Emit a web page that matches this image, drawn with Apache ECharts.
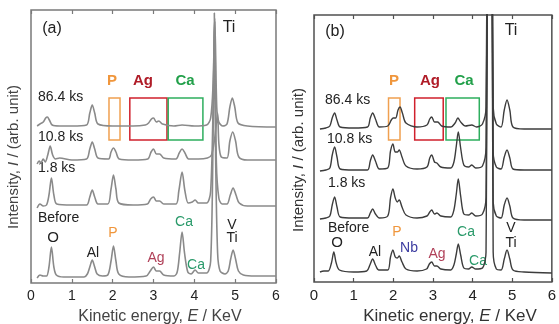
<!DOCTYPE html>
<html>
<head>
<meta charset="utf-8">
<script src="https://cdn.jsdelivr.net/npm/echarts@6/dist/echarts.min.js"></script>
<style>
html, body { margin: 0; padding: 0; background: #fff; }
#main { width: 559px; height: 324px; }
</style>
</head>
<body>
<div id="main"></div>
<script>
// spectra: [kinetic energy (keV), intensity (arb. unit)]
// panel (a)
var aBefore = [[0.15,5],[0.22,8],[0.3,7],[0.38,7],[0.44,16],[0.5,36],[0.56,16],[0.62,8],[0.8,6],[1.0,6],[1.3,6],[1.38,9],[1.44,16],[1.5,23],[1.56,16],[1.62,9],[1.75,7],[1.88,8],[1.96,22],[2.02,37],[2.08,22],[2.15,9],[2.4,6],[2.82,7],[2.92,12],[3.0,16],[3.07,12],[3.15,12],[3.25,8],[3.5,7],[3.58,11],[3.64,30],[3.7,51],[3.76,30],[3.84,11],[3.92,9],[4.02,13],[4.1,10],[4.3,10],[4.4,22],[4.46,150],[4.49,270],[4.52,130],[4.57,30],[4.63,12],[4.75,9],[4.83,12],[4.89,24],[4.95,33],[5.01,24],[5.08,12],[5.2,8],[5.5,7],[6.0,7]];
var a1p8 = [[0.15,75],[0.22,79],[0.3,77],[0.38,78],[0.44,88],[0.5,105],[0.56,88],[0.63,79],[1.0,78],[1.36,78],[1.44,86],[1.5,93],[1.56,86],[1.64,79],[1.88,79],[1.96,94],[2.02,108],[2.08,94],[2.15,80],[2.5,78],[2.85,79],[2.93,84],[3.0,86],[3.07,82],[3.15,82],[3.25,79],[3.55,79],[3.62,92],[3.7,111],[3.77,92],[3.85,80],[3.95,81],[4.02,83],[4.1,80],[4.3,80],[4.4,92],[4.47,200],[4.5,262],[4.54,120],[4.6,85],[4.68,79],[4.8,79],[4.88,88],[4.95,95],[5.02,88],[5.1,80],[5.3,77],[6.0,77]];
var a10p8 = [[0.15,119],[0.2,122],[0.24,120],[0.3,124],[0.35,121],[0.41,128],[0.47,137],[0.53,128],[0.6,124],[0.7,125],[1.0,123],[1.36,124],[1.44,134],[1.5,141],[1.56,134],[1.64,125],[1.9,124],[1.96,131],[2.02,135],[2.08,131],[2.16,124],[2.5,123],[2.86,124],[2.94,131],[3.0,134],[3.07,129],[3.15,129],[3.25,125],[3.55,124],[3.63,130],[3.7,134],[3.77,130],[3.86,124],[4.1,124],[4.32,125],[4.42,128],[4.5,145],[4.54,160],[4.57,170],[4.6,140],[4.66,126],[4.8,125],[4.87,142],[4.94,151],[5.01,142],[5.09,126],[5.3,123],[6.0,123]];
var a86p4 = [[0.15,157],[0.22,159],[0.3,161],[0.36,165],[0.4,166],[0.45,163],[0.52,158],[0.7,157],[1.0,157],[1.36,158],[1.44,170],[1.5,178],[1.56,170],[1.64,159],[2.0,157],[2.5,157],[2.8,158],[2.88,160],[2.95,164],[3.0,165],[3.07,161],[3.13,162],[3.22,159],[3.5,157],[3.7,158],[4.0,157],[4.3,158],[4.4,165],[4.46,200],[4.5,265],[4.55,175],[4.6,161],[4.7,157],[4.8,159],[4.87,176],[4.93,185],[4.99,176],[5.07,160],[5.3,157],[6.0,156]];
// panel (b)
var bBefore = [[0.15,10],[0.25,11],[0.36,11],[0.44,19],[0.5,30],[0.56,19],[0.64,12],[1.0,10],[1.33,11],[1.41,17],[1.48,23],[1.55,17],[1.63,12],[1.86,12],[1.93,25],[1.99,32],[2.05,25],[2.1,24],[2.15,26],[2.22,20],[2.32,13],[2.6,11],[2.84,13],[2.91,18],[2.97,20],[3.04,16],[3.1,16],[3.2,13],[3.45,12],[3.53,17],[3.59,28],[3.64,38],[3.7,27],[3.78,14],[3.9,13],[3.98,15],[4.08,13],[4.25,14],[4.34,30],[4.43,900],[4.52,30],[4.6,13],[4.72,12],[4.8,23],[4.87,32],[4.94,23],[5.02,12],[5.3,10],[6.0,9]];
var b1p8 = [[0.15,63],[0.3,64],[0.4,66],[0.46,77],[0.52,85],[0.58,75],[0.66,65],[1.0,64],[1.35,64],[1.42,69],[1.48,73],[1.55,68],[1.65,64],[1.86,66],[1.93,84],[1.99,93],[2.05,84],[2.1,80],[2.15,82],[2.22,75],[2.32,67],[2.6,64],[2.85,66],[2.92,70],[2.97,72],[3.04,68],[3.1,69],[3.2,66],[3.45,65],[3.53,72],[3.59,88],[3.64,103],[3.7,86],[3.78,68],[3.9,67],[3.98,69],[4.08,66],[4.25,68],[4.34,85],[4.43,900],[4.52,80],[4.6,66],[4.72,64],[4.8,77],[4.87,84],[4.94,76],[5.02,64],[5.3,62],[6.0,62]];
var b10p8 = [[0.15,111],[0.3,112],[0.4,114],[0.46,127],[0.52,135],[0.58,125],[0.66,113],[1.0,112],[1.35,112],[1.42,121],[1.48,127],[1.55,121],[1.65,113],[1.86,114],[1.93,131],[1.99,138],[2.05,130],[2.1,130],[2.15,132],[2.22,125],[2.32,116],[2.6,113],[2.85,115],[2.92,124],[2.97,127],[3.04,120],[3.1,119],[3.2,115],[3.45,114],[3.53,120],[3.59,136],[3.64,150],[3.7,134],[3.78,117],[3.9,115],[3.98,117],[4.08,114],[4.25,116],[4.34,135],[4.43,900],[4.52,130],[4.6,115],[4.72,113],[4.8,125],[4.87,132],[4.94,124],[5.02,113],[5.3,112],[6.0,112]];
var b86p4 = [[0.15,153],[0.3,154],[0.4,156],[0.46,164],[0.52,169],[0.58,162],[0.66,155],[1.0,154],[1.35,155],[1.42,164],[1.48,169],[1.55,163],[1.65,155],[1.86,156],[1.95,162],[2.0,164],[2.06,164],[2.12,172],[2.17,175],[2.23,169],[2.32,159],[2.6,155],[2.85,157],[2.92,163],[2.97,165],[3.04,160],[3.12,160],[3.22,156],[3.45,155],[3.56,159],[3.63,164],[3.7,160],[3.82,156],[3.98,157],[4.1,155],[4.25,158],[4.34,175],[4.43,900],[4.52,175],[4.6,158],[4.72,155],[4.8,172],[4.87,182],[4.94,172],[5.02,155],[5.3,153],[6.0,153]];

// highlighted windows: [name, E from, E to, I low, I high]
var boxesA = [['P',1.91,2.18,143,185],['Ag',2.42,3.33,143,185],['Ca',3.36,4.21,143,185]];
var boxesB = [['P',1.88,2.17,142,184],['Ag',2.54,3.26,142,184],['Ca',3.33,4.17,142,184]];

var FONT = '"Liberation Sans", Arial, sans-serif';
var boxColor = { P: '#f0a050', Ag: '#d0202c', Ca: '#2eae5e' };

function areas(boxes) {
  return boxes.map(function (b) {
    return [{ coord: [b[1], b[3]], itemStyle: { color: 'rgba(0,0,0,0)', borderColor: boxColor[b[0]], borderWidth: 1.5 } },
            { coord: [b[2], b[4]] }];
  });
}

function spec(data, xi, yi, color, width, boxes) {
  var s = {
    type: 'line', xAxisIndex: xi, yAxisIndex: yi, data: data,
    showSymbol: false, smooth: 0.3, silent: true, clip: true,
    lineStyle: { color: color, width: width }
  };
  if (boxes) {
    s.markArea = { silent: true, label: { show: false }, data: areas(boxes) };
  }
  return s;
}

function t(x, y, s, size, color, opts) {
  opts = opts || {};
  return {
    type: 'text', x: x, y: y, silent: true, rotation: opts.rot || 0,
    style: {
      text: s, fill: color, fontFamily: FONT, fontSize: size,
      fontWeight: opts.bold ? 'bold' : 'normal',
      align: opts.align || 'center', verticalAlign: 'middle',
      rich: opts.rich
    }
  };
}

function xAxes(gi, col, fs) {
  var base = { gridIndex: gi, type: 'value', min: 0, max: 6, interval: 1,
    axisLine: { show: false }, splitLine: { show: false },
    axisTick: { inside: true, length: 4, lineStyle: { color: col, width: 1.2 } } };
  return [
    Object.assign({}, base, { position: 'bottom',
      axisLabel: { color: '#222', fontSize: fs, fontFamily: FONT, margin: 6 } }),
    Object.assign({}, base, { position: 'top', axisLabel: { show: false } })
  ];
}

function yAxis(gi, max) {
  return { gridIndex: gi, type: 'value', min: 0, max: max,
    axisLine: { show: false }, axisTick: { show: false },
    axisLabel: { show: false }, splitLine: { show: false } };
}

var grayA = '#8a8a8a', grayB = '#3c3c3c';
function italic(fs) { return { i: { fontStyle: 'italic', fontFamily: FONT, fontSize: fs } }; }

var chart = echarts.init(document.getElementById('main'));
chart.setOption({
  animation: false,
  grid: [
    { left: 31, top: 10, width: 245, height: 273, show: true, borderColor: '#7a7a7a', borderWidth: 1.5 },
    { left: 314, top: 15, width: 243, height: 267, show: true, borderColor: '#505050', borderWidth: 1.5 }
  ],
  xAxis: xAxes(0, '#7a7a7a', 14).concat(xAxes(1, '#505050', 15)),
  yAxis: [yAxis(0, 273), yAxis(1, 267)],
  series: [
    spec(aBefore, 0, 0, grayA, 1.6, boxesA),
    spec(a1p8, 0, 0, grayA, 1.6),
    spec(a10p8, 0, 0, grayA, 1.6),
    spec(a86p4, 0, 0, grayA, 1.6),
    spec(bBefore, 2, 1, grayB, 1.4, boxesB),
    spec(b1p8, 2, 1, grayB, 1.4),
    spec(b10p8, 2, 1, grayB, 1.4),
    spec(b86p4, 2, 1, grayB, 1.4)
  ],
  graphic: { elements: [
    // panel (a)
    t(52, 29, '(a)', 16, '#222'),
    t(229, 28, 'Ti', 16, '#222'),
    t(112, 81, 'P', 15, '#f0963c', { bold: true }),
    t(143, 81, 'Ag', 15, '#b01c28', { bold: true }),
    t(185, 81, 'Ca', 15, '#22a04a', { bold: true }),
    t(38, 97, '86.4 ks', 14, '#222', { align: 'left' }),
    t(38, 137, '10.8 ks', 14, '#222', { align: 'left' }),
    t(38, 168, '1.8 ks', 14, '#222', { align: 'left' }),
    t(38, 218, 'Before', 14, '#222', { align: 'left' }),
    t(53, 238, 'O', 15, '#222'),
    t(93, 253, 'Al', 14, '#222'),
    t(113, 233, 'P', 14, '#f0963c'),
    t(156, 258, 'Ag', 14, '#b04058'),
    t(184, 222, 'Ca', 14, '#2a9a6a'),
    t(196, 265, 'Ca', 14, '#2a9a6a'),
    t(232, 225, 'V', 14, '#222'),
    t(232, 238, 'Ti', 14, '#222'),
    t(14, 157, 'Intensity, {i|I} / (arb. unit)', 15, '#444', { rot: Math.PI / 2, rich: italic(15) }),
    t(160, 317, 'Kinetic energy, {i|E} / KeV', 16, '#444', { rich: italic(16) }),
    // panel (b)
    t(335, 32, '(b)', 16, '#222'),
    t(511, 31, 'Ti', 16, '#222'),
    t(394, 81, 'P', 15, '#f0963c', { bold: true }),
    t(430, 81, 'Ag', 15, '#b01c28', { bold: true }),
    t(464, 81, 'Ca', 15, '#22a04a', { bold: true }),
    t(325, 100, '86.4 ks', 14, '#222', { align: 'left' }),
    t(327, 139, '10.8 ks', 14, '#222', { align: 'left' }),
    t(328, 183, '1.8 ks', 14, '#222', { align: 'left' }),
    t(328, 228, 'Before', 14, '#222', { align: 'left' }),
    t(337, 243, 'O', 15, '#222'),
    t(375, 252, 'Al', 14, '#222'),
    t(397, 232, 'P', 14, '#f0963c'),
    t(409, 248, 'Nb', 14, '#3c3ca0'),
    t(437, 254, 'Ag', 14, '#b04058'),
    t(466, 232, 'Ca', 14, '#2a9a6a'),
    t(478, 261, 'Ca', 14, '#2a9a6a'),
    t(511, 228, 'V', 14, '#222'),
    t(511, 243, 'Ti', 14, '#222'),
    t(299, 160, 'Intensity, {i|I} / (arb. unit)', 15, '#333', { rot: Math.PI / 2, rich: italic(15) }),
    t(450, 316, 'Kinetic energy, {i|E} / KeV', 17, '#333', { rich: italic(17) })
  ] }
});
</script>
</body>
</html>
